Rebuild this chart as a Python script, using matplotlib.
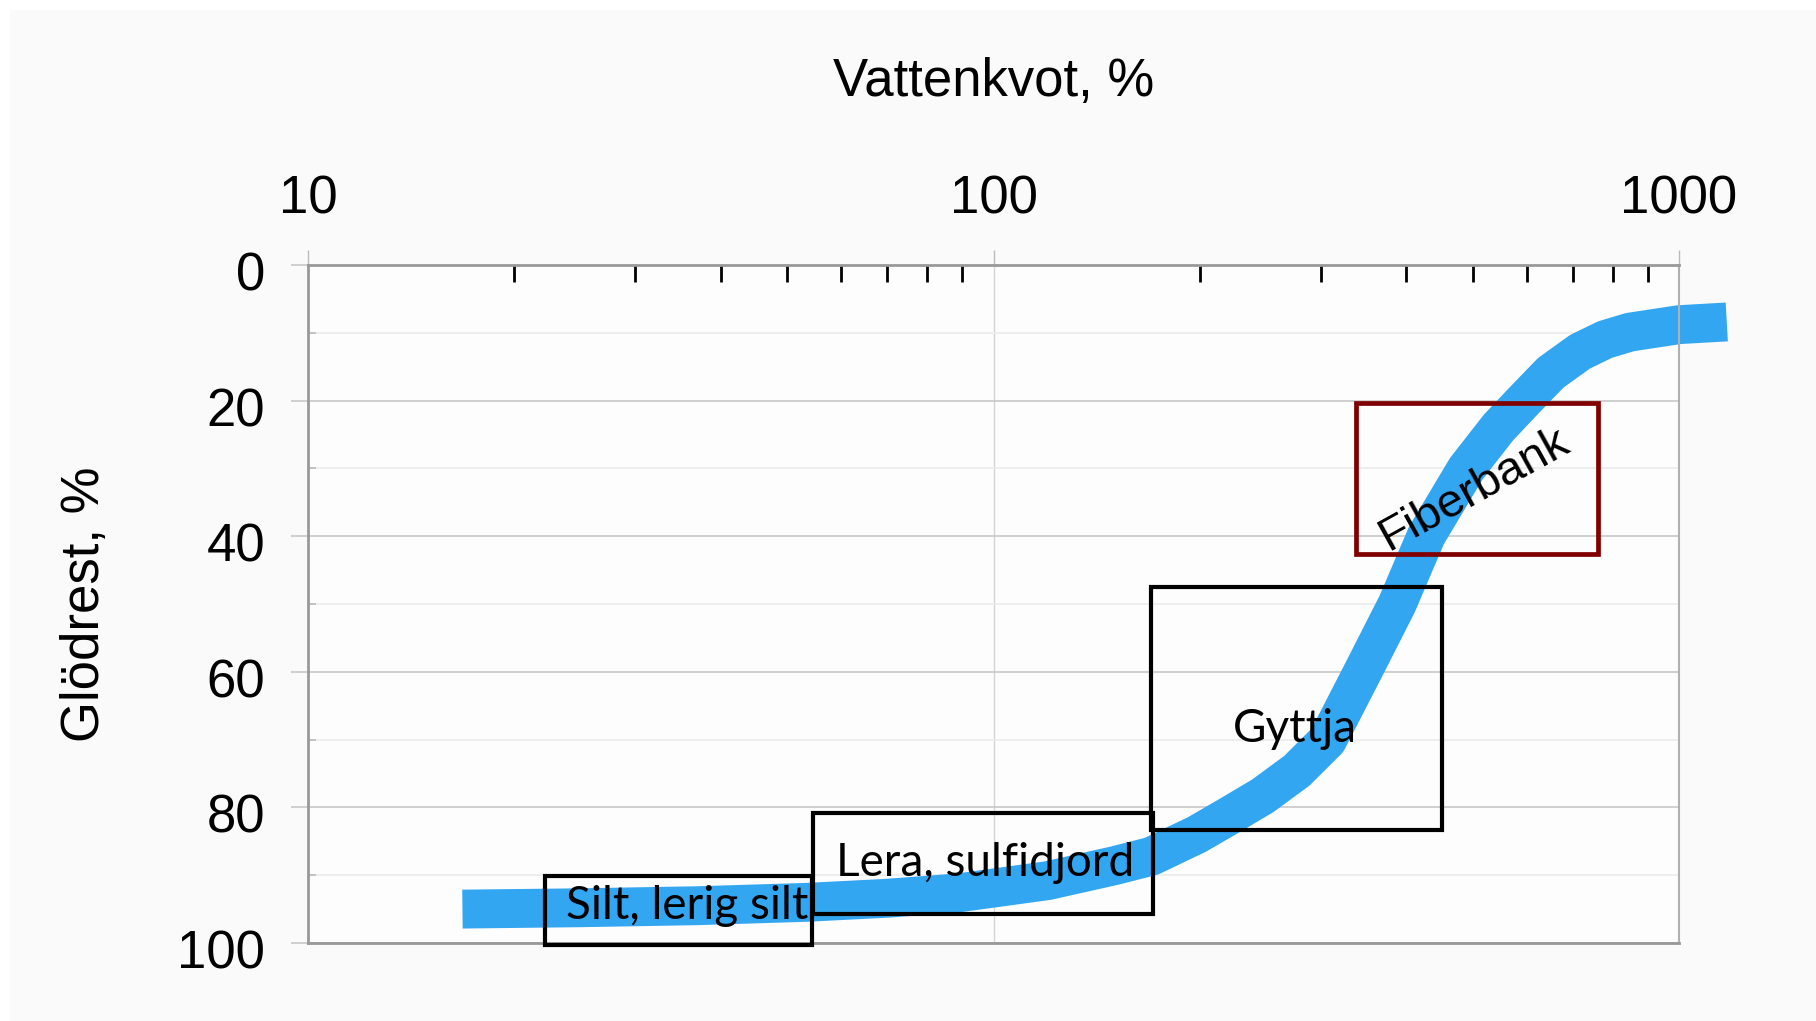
import numpy as np
import matplotlib.pyplot as plt
from matplotlib.patches import Rectangle
from matplotlib.transforms import ScaledTranslation

# curve (vattenkvot %, glödrest %)
vattenkvot = [16.8, 25, 37, 53.5, 70, 89, 120, 150, 170, 198, 221, 247, 277, 307,
              346, 388, 428, 489, 545, 590, 650, 717, 780, 848, 1000, 1174]
glodrest = [95.0, 94.8, 94.5, 94.0, 93.4, 92.6, 90.8, 88.6, 87.2, 84.0, 81.2, 78.3, 74.6, 70.1,
            59.9, 50.0, 39.9, 30.1, 24.0, 20.3, 15.9, 12.8, 11.0, 9.9, 8.8, 8.4]

# soil type boxes
jordarter = ["Silt, lerig silt", "Lera, sulfidjord", "Gyttja"]
box_x0 = [22.2, 54.6, 170]
box_x1 = [54.3, 171, 451]
box_ytop = [90.1, 80.8, 47.5]
box_ybot = [100.3, 95.7, 83.3]
label_x = [35.7, 97.3, 275]
label_y = [96.5, 90.1, 70.4]

fiber_box = [338, 762, 20.4, 42.6]
fiber_label = [502, 33.2]

xticks = [10, 100, 1000]
yticks = [0, 20, 40, 60, 80, 100]

fig = plt.figure(figsize=(18.16, 10.21), dpi=100, facecolor="white")
fig.patches.append(Rectangle((10 / 1816, 0), 1, 1 - 10 / 1021, transform=fig.transFigure,
                             facecolor="#fafafa", edgecolor="none", zorder=-10))
ax = fig.add_axes([308 / 1816, 1 - 943 / 1021, (1679 - 308) / 1816, (943 - 265) / 1021])
ax.set_facecolor("#fdfdfd")

ax.plot(vattenkvot, glodrest, color="#33a6f2", lw=28, solid_capstyle="butt",
        solid_joinstyle="round", clip_on=False, zorder=2)

for name, x0, x1, yt, yb, lx, ly in zip(jordarter, box_x0, box_x1, box_ytop, box_ybot, label_x, label_y):
    ax.add_patch(Rectangle((x0, yt), x1 - x0, yb - yt, fill=False, edgecolor="black",
                           lw=3, clip_on=False, zorder=3))
    ax.text(lx, ly, name, ha="center", va="baseline", fontsize=33, family="Lato", zorder=4)

ax.add_patch(Rectangle((fiber_box[0], fiber_box[2]), fiber_box[1] - fiber_box[0],
                       fiber_box[3] - fiber_box[2], fill=False, edgecolor="#800000",
                       lw=3.4, zorder=3))
ax.text(fiber_label[0], fiber_label[1], "Fiberbank", rotation=29, rotation_mode="anchor",
        ha="center", va="center", fontsize=34, family="Liberation Sans", zorder=4)

ax.set_xscale("log")
ax.set_xlim(10, 1000)
ax.set_ylim(100, 0)

ax.xaxis.tick_top()
ax.xaxis.set_label_position("top")
ax.set_xticks(xticks)
ax.set_xticklabels([str(v) for v in xticks])
ax.set_yticks(yticks)
ax.set_yticks([10, 30, 50, 70, 90], minor=True)

ax.tick_params(axis="x", which="major", direction="out", length=11, width=1,
               color="#bbbbbb", pad=18, labelsize=38)
ax.tick_params(axis="x", which="minor", direction="in", length=12, width=2,
               color="black", top=True, bottom=False)
ax.tick_params(axis="y", which="major", direction="out", length=12, width=1.2,
               color="#c8c8c8", pad=19, labelsize=38)
ax.tick_params(axis="y", which="minor", direction="in", length=6, width=1.2, color="#bbbbbb")
for lab in ax.get_xticklabels():
    lab.set_family("Liberation Sans")
shift = ScaledTranslation(0, -6 / 100, fig.dpi_scale_trans)
for lab in ax.get_yticklabels():
    lab.set_family("Liberation Sans")
    lab.set_transform(lab.get_transform() + shift)

ax.grid(axis="y", which="major", color="#c8c8c8", lw=1.2)
ax.grid(axis="y", which="minor", color="#ececec", lw=1.2)
ax.grid(axis="x", which="major", color="#d4d4d4", lw=1)
ax.set_axisbelow(True)

for side in ["left", "top", "bottom"]:
    ax.spines[side].set_color("#999999")
    ax.spines[side].set_linewidth(2)
ax.spines["right"].set_color("#b0b0b0")
ax.spines["right"].set_linewidth(1.5)

ax.set_xlabel("Vattenkvot, %", fontsize=38, family="Liberation Sans", labelpad=57)
ax.set_ylabel("Glödrest, %", fontsize=38, family="Liberation Sans", labelpad=48)

fig.savefig("out.png", dpi=100, facecolor=fig.get_facecolor())
